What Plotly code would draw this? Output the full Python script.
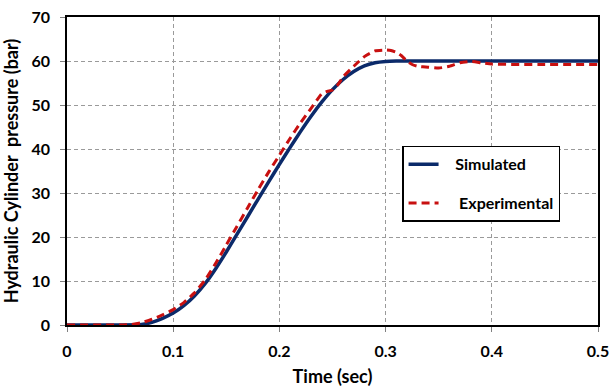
import plotly.graph_objects as go

# Simulated (blue) curve
sim_t = [0.0, 0.05, 0.07, 0.08, 0.09, 0.10, 0.11, 0.12, 0.13, 0.14, 0.15, 0.16, 0.17,
         0.18, 0.19, 0.20, 0.21, 0.22, 0.23, 0.24, 0.25, 0.26, 0.27, 0.28, 0.29, 0.30,
         0.31, 0.32, 0.40, 0.50]
sim_p = [0.0, 0.0, 0.1, 0.6, 1.5, 2.7, 4.4, 6.6, 9.4, 12.8, 16.6, 20.6, 24.6,
         28.6, 32.6, 36.5, 40.3, 44.0, 47.5, 50.7, 53.5, 55.8, 57.6, 58.9, 59.6, 59.9,
         60.0, 60.0, 60.0, 60.0]

# Experimental (red) curve
exp_t = [0.0, 0.05, 0.06, 0.07, 0.08, 0.09, 0.10, 0.11, 0.12, 0.13, 0.14, 0.15, 0.16,
         0.17, 0.18, 0.19, 0.20, 0.21, 0.22, 0.23, 0.235, 0.24, 0.245, 0.25, 0.255, 0.26,
         0.27, 0.28, 0.29, 0.30, 0.305, 0.31, 0.315, 0.32, 0.325, 0.33, 0.34, 0.35,
         0.36, 0.37, 0.38, 0.39, 0.40, 0.45, 0.50]
exp_p = [0.0, 0.0, 0.1, 0.5, 1.3, 2.3, 3.5, 5.1, 7.3, 10.2, 14.0, 18.2, 22.4,
         26.6, 30.8, 34.8, 38.6, 42.4, 46.0, 49.3, 51.0, 52.6, 53.1, 53.4, 54.6, 56.4,
         58.8, 61.0, 62.3, 62.5, 62.4, 62.0, 61.2, 60.0, 59.2, 58.8, 58.6, 58.4,
         58.8, 59.6, 59.9, 59.6, 59.3, 59.2, 59.2]

x_ticks = [0, 0.1, 0.2, 0.3, 0.4, 0.5]
x_tick_text = ["0", "0.1", "0.2", "0.3", "0.4", "0.5"]
y_ticks = [0, 10, 20, 30, 40, 50, 60, 70]

FONT = "Lato"
NB = "\u00a0"

fig = go.Figure()
fig.add_trace(go.Scatter(
    x=sim_t, y=sim_p, mode="lines", name=NB * 3 + "Simulated", legendgroup="a",
    line=dict(color="#0B2A6A", width=3.5, shape="spline", smoothing=0.5)))
fig.add_trace(go.Scatter(
    x=exp_t, y=exp_p, mode="lines", name=NB * 4 + "Experimental", legendgroup="b",
    line=dict(color="#C81010", width=3, dash="8px,5px", shape="spline", smoothing=0.5)))

axis_common = dict(
    showline=True, linecolor="#000000", linewidth=1.5, mirror=True,
    showgrid=True, gridcolor="#9A9A9A", gridwidth=1, griddash="4px,3px",
    ticks="outside", ticklen=5, tickcolor="#808080", tickwidth=1,
    zeroline=False, ticklabeloverflow="allow",
    tickfont=dict(family=FONT, size=16, color="#000000", weight="bold"),
)

fig.update_xaxes(
    range=[0, 0.5], tickvals=x_ticks, ticktext=x_tick_text,
    ticklabelstandoff=6,
    title=dict(text="Time (sec)", standoff=12,
               font=dict(family=FONT, size=18, color="#000000", weight="bold")),
    **axis_common)
fig.update_yaxes(
    range=[0, 70], tickvals=y_ticks,
    ticklabelstandoff=7,
    title=dict(text="Hydraulic Cylinder  pressure (bar)" + NB * 7, standoff=8,
               font=dict(family=FONT, size=18, color="#000000", weight="bold")),
    **axis_common)

fig.update_layout(
    width=612, height=387,
    margin=dict(l=67, r=14, t=17, b=62, autoexpand=False),
    paper_bgcolor="white", plot_bgcolor="white",
    showlegend=True,
    legend=dict(
        x=0.631, y=0.582, xanchor="left", yanchor="top",
        bgcolor="white", bordercolor="#000000", borderwidth=1.5,
        font=dict(family=FONT, size=16, color="#000000", weight="bold"),
        traceorder="grouped", tracegroupgap=15,
    ),
)

fig.write_html("out.html", config={"displayModeBar": False},
               post_script="document.body.style.margin='0px';document.body.style.overflow='hidden';")
